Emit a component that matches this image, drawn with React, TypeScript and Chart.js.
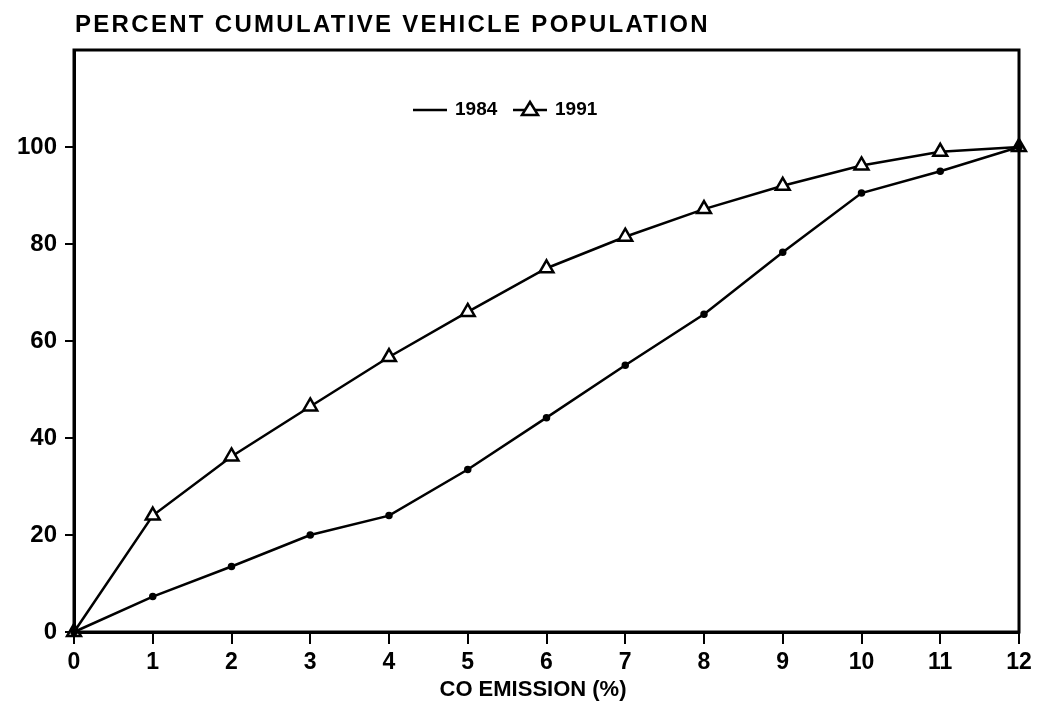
import React, { useEffect, useRef } from "react";
import { Chart, registerables } from "chart.js";

Chart.register(...registerables);

const xValues = [0, 1, 2, 3, 4, 5, 6, 7, 8, 9, 10, 11, 12];
const series1984 = [0, 7.3, 13.5, 20, 24, 33.5, 44.2, 55, 65.5, 78.3, 90.5, 95, 100];
const series1991 = [0, 24, 36.2, 46.5, 56.7, 66, 75, 81.5, 87.2, 92, 96.2, 99, 100];
const yTickValues = [0, 20, 40, 60, 80, 100];
const chartTitle = "PERCENT CUMULATIVE VEHICLE POPULATION";
const xTitle = "CO EMISSION (%)";
const legendLabels = ["1984", "1991"];

const FONT = "'Liberation Sans', Arial, sans-serif";

export default function App() {
  const ref = useRef<HTMLCanvasElement | null>(null);

  useEffect(() => {
    document.body.style.margin = "0";
    const canvas = ref.current!;
    const framePlugin = {
      id: "frame",
      afterDraw(chart: any) {
        const { ctx, chartArea } = chart;
        ctx.save();
        ctx.strokeStyle = "#000";
        ctx.lineWidth = 3;
        ctx.strokeRect(chartArea.left, chartArea.top, chartArea.right - chartArea.left, chartArea.bottom - chartArea.top);
        // title
        ctx.fillStyle = "#000";
        ctx.font = `bold 24px ${FONT}`;
        (ctx as any).letterSpacing = "2.3px";
        ctx.textAlign = "left";
        ctx.textBaseline = "middle";
        ctx.fillText(chartTitle, 75, 25);
        (ctx as any).letterSpacing = "0px";
        // x axis title
        ctx.font = `bold 22px ${FONT}`;
        ctx.textAlign = "center";
        ctx.fillText(xTitle, 533, 690);
        ctx.textAlign = "left";
        // legend
        const ly = 110;
        ctx.lineWidth = 2.5;
        ctx.font = `bold 19px ${FONT}`;
        ctx.beginPath();
        ctx.moveTo(413, ly);
        ctx.lineTo(447, ly);
        ctx.stroke();
        ctx.fillText(legendLabels[0], 455, ly);
        ctx.beginPath();
        ctx.moveTo(513, ly);
        ctx.lineTo(547, ly);
        ctx.stroke();
        ctx.beginPath();
        ctx.moveTo(530, ly - 8);
        ctx.lineTo(538, ly + 5);
        ctx.lineTo(522, ly + 5);
        ctx.closePath();
        ctx.fillStyle = "#fff";
        ctx.fill();
        ctx.stroke();
        ctx.fillStyle = "#000";
        ctx.fillText(legendLabels[1], 555, ly);
        ctx.restore();
      },
    };

    const chart = new Chart(canvas, {
      type: "line",
      data: {
        datasets: [
          {
            label: legendLabels[0],
            data: xValues.map((x, i) => ({ x, y: series1984[i] })),
            borderColor: "#000",
            backgroundColor: "#000",
            borderWidth: 2.5,
            pointRadius: 2.5,
            pointStyle: "circle",
            clip: false,
          },
          {
            label: legendLabels[1],
            data: xValues.map((x, i) => ({ x, y: series1991[i] })),
            borderColor: "#000",
            backgroundColor: "#fff",
            borderWidth: 2.5,
            pointRadius: 8,
            pointBorderWidth: 2.5,
            pointStyle: "triangle",
            clip: false,
          },
        ],
      },
      options: {
        animation: false,
        responsive: false,
        layout: { padding: { left: 0, right: 24, top: 50, bottom: 0 } },
        plugins: { legend: { display: false }, title: { display: false }, tooltip: { enabled: false } },
        scales: {
          x: {
            type: "linear",
            min: 0,
            max: 12,
            afterFit(scale: any) {
              scale.height = 92;
            },
            ticks: {
              stepSize: 1,
              color: "#000",
              font: { family: FONT, size: 23, weight: "bold" },
              padding: 5,
            },
            grid: { drawOnChartArea: false, drawTicks: true, tickLength: 12, color: "#000", lineWidth: 2 },
            border: { display: true, color: "#000", width: 3 },
          },
          y: {
            type: "linear",
            min: 0,
            max: 120,
            afterFit(scale: any) {
              scale.width = 74;
            },
            afterBuildTicks(scale: any) {
              scale.ticks = yTickValues.map((v) => ({ value: v }));
            },
            ticks: {
              color: "#000",
              font: { family: FONT, size: 24, weight: "bold" },
              padding: 8,
            },
            grid: { drawOnChartArea: false, drawTicks: true, tickLength: 9, color: "#000", lineWidth: 2 },
            border: { display: true, color: "#000", width: 3 },
          },
        },
      },
      plugins: [framePlugin],
    });
    return () => chart.destroy();
  }, []);

  return (
    <div style={{ width: 1043, height: 724 }}>
      <canvas ref={ref} width={1043} height={724} style={{ display: "block" }} />
    </div>
  );
}
